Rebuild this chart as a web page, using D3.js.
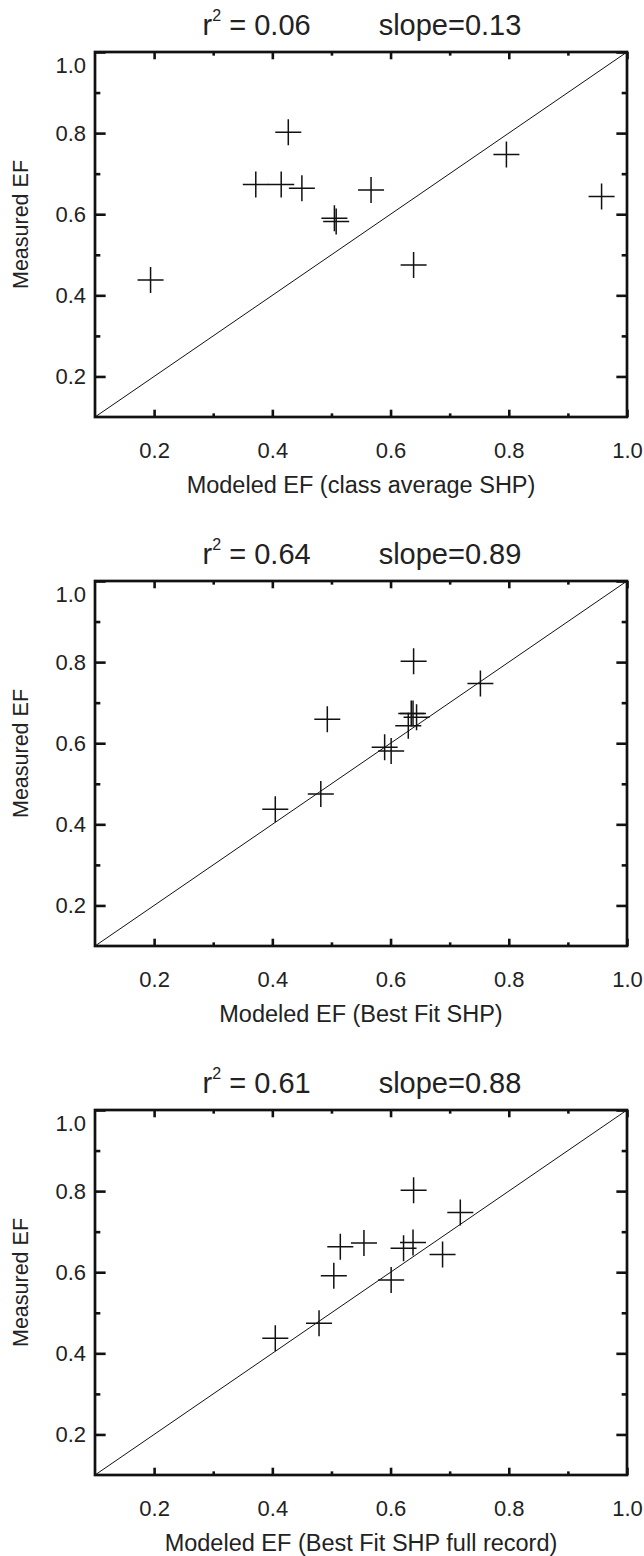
<!DOCTYPE html>
<html><head><meta charset="utf-8">
<script src="https://cdn.jsdelivr.net/npm/d3@7"></script>
<style>
html,body{margin:0;padding:0;background:#fff;}
svg text{font-family:"Liberation Sans",Arial,Helvetica,sans-serif;fill:#222;}
</style></head>
<body><svg id="c" width="644" height="1556"></svg>
<script>
// ---- data ----
const panelTitlesR2 = ["0.06", "0.64", "0.61"];
const panelTitlesSlope = ["0.13", "0.89", "0.88"];
const xAxisTitles = ["Modeled EF (class average SHP)", "Modeled EF (Best Fit SHP)", "Modeled EF (Best Fit SHP full record)"];
const yAxisTitle = "Measured EF";
const majorTicks = [0.2, 0.4, 0.6, 0.8, 1.0];
const minorTicks = [0.3, 0.5, 0.7, 0.9];
const axisDomain = [0.1, 1.0];

const modeledClassAvg   = [0.194, 0.427, 0.372, 0.415, 0.450, 0.505, 0.508, 0.567, 0.639, 0.796, 0.957];
const measuredClassAvg  = [0.438, 0.802, 0.673, 0.673, 0.664, 0.590, 0.582, 0.660, 0.475, 0.747, 0.644];
const modeledBestFit    = [0.405, 0.482, 0.493, 0.590, 0.601, 0.639, 0.752, 0.635, 0.638, 0.644, 0.630];
const measuredBestFit   = [0.437, 0.475, 0.659, 0.590, 0.581, 0.802, 0.747, 0.673, 0.673, 0.664, 0.643];
const modeledFullRecord = [0.405, 0.479, 0.504, 0.515, 0.555, 0.601, 0.639, 0.622, 0.638, 0.688, 0.718];
const measuredFullRecord= [0.437, 0.474, 0.591, 0.663, 0.672, 0.581, 0.802, 0.659, 0.673, 0.644, 0.747];

const panels = [
  {x: modeledClassAvg, y: measuredClassAvg},
  {x: modeledBestFit, y: measuredBestFit},
  {x: modeledFullRecord, y: measuredFullRecord}
];

// ---- layout ----
const frameLeft = 95, frameRight = 627, frameH = 365, firstTop = 52, pitch = 529;
const svg = d3.select("#c");
const fmt = d3.format(".1f");
const FONT = '"Liberation Sans",Arial,Helvetica,sans-serif';

panels.forEach((p, i) => {
  const top = firstTop + i * pitch, bottom = top + frameH;
  const x = d3.scaleLinear().domain(axisDomain).range([frameLeft, frameRight]);
  const y = d3.scaleLinear().domain(axisDomain).range([bottom, top]);
  const g = svg.append("g");
  const xTL = 0.02 * frameH, yTL = 0.02 * (frameRight - frameLeft);

  // bottom axis
  g.append("g").attr("transform", `translate(0,${bottom})`)
    .call(d3.axisBottom(x).tickValues(majorTicks).tickSizeInner(-xTL).tickSizeOuter(0).tickPadding(25).tickFormat(fmt));
  g.append("g").attr("transform", `translate(0,${bottom})`)
    .call(d3.axisBottom(x).tickValues(minorTicks).tickSizeInner(-xTL/2).tickSizeOuter(0).tickFormat(""));
  // top axis
  g.append("g").attr("transform", `translate(0,${top})`)
    .call(d3.axisTop(x).tickValues(majorTicks).tickSizeInner(-xTL).tickSizeOuter(0).tickFormat(""));
  g.append("g").attr("transform", `translate(0,${top})`)
    .call(d3.axisTop(x).tickValues(minorTicks).tickSizeInner(-xTL/2).tickSizeOuter(0).tickFormat(""));
  // left axis
  const gl = g.append("g").attr("transform", `translate(${frameLeft},0)`)
    .call(d3.axisLeft(y).tickValues(majorTicks).tickSizeInner(-yTL).tickSizeOuter(0).tickPadding(9).tickFormat(fmt));
  g.append("g").attr("transform", `translate(${frameLeft},0)`)
    .call(d3.axisLeft(y).tickValues(minorTicks).tickSizeInner(-yTL/2).tickSizeOuter(0).tickFormat(""));
  // right axis
  g.append("g").attr("transform", `translate(${frameRight},0)`)
    .call(d3.axisRight(y).tickValues(majorTicks).tickSizeInner(-yTL).tickSizeOuter(0).tickFormat(""));
  g.append("g").attr("transform", `translate(${frameRight},0)`)
    .call(d3.axisRight(y).tickValues(minorTicks).tickSizeInner(-yTL/2).tickSizeOuter(0).tickFormat(""));

  g.selectAll(".domain").remove();
  g.selectAll(".tick line").attr("stroke", "#111").attr("stroke-width", 2.6);
  g.selectAll(".tick text").attr("font-size", 22).attr("fill", "#333").attr("font-family", FONT);
  // top y label sits just below the frame corner
  gl.selectAll(".tick text").filter(d => d === 1.0).attr("dy", "0.95em");

  // frame
  g.append("rect").attr("x", frameLeft).attr("y", top)
    .attr("width", frameRight - frameLeft).attr("height", frameH)
    .attr("fill", "none").attr("stroke", "#111").attr("stroke-width", 2.7);

  // 1:1 line
  g.append("line")
    .attr("x1", x(axisDomain[0])).attr("y1", y(axisDomain[0]))
    .attr("x2", x(axisDomain[1])).attr("y2", y(axisDomain[1]))
    .attr("stroke", "#111").attr("stroke-width", 1);

  // plus markers
  const cs = 13;
  const pts = p.x.map((v, k) => [v, p.y[k]]);
  const mk = g.append("g").attr("stroke", "#111").attr("stroke-width", 1.5);
  mk.selectAll("path").data(pts).join("path")
    .attr("d", d => `M${x(d[0]) - cs},${y(d[1])}H${x(d[0]) + cs}M${x(d[0])},${y(d[1]) - cs}V${y(d[1]) + cs}`);

  // title
  const cx = (frameLeft + frameRight) / 2;
  const t = g.append("text").attr("x", cx + 1).attr("y", top - 17)
    .attr("text-anchor", "middle").attr("font-size", 29).attr("fill", "#333");
  t.append("tspan").text("r");
  t.append("tspan").attr("font-size", 16).attr("dy", -14).text("2");
  t.append("tspan").attr("dy", 14).text(" = " + panelTitlesR2[i]);
  t.append("tspan").attr("dx", 68).text("slope=" + panelTitlesSlope[i]);

  // x axis title
  g.append("text").attr("x", cx).attr("y", bottom + 76)
    .attr("text-anchor", "middle").attr("font-size", 23.5).attr("fill", "#333")
    .text(xAxisTitles[i]);
  // y axis title
  g.append("text").attr("transform", `translate(28,${(top + bottom) / 2 - 10}) rotate(-90)`)
    .attr("text-anchor", "middle").attr("font-size", 21.5).attr("fill", "#333")
    .text(yAxisTitle);
});
</script></body></html>
